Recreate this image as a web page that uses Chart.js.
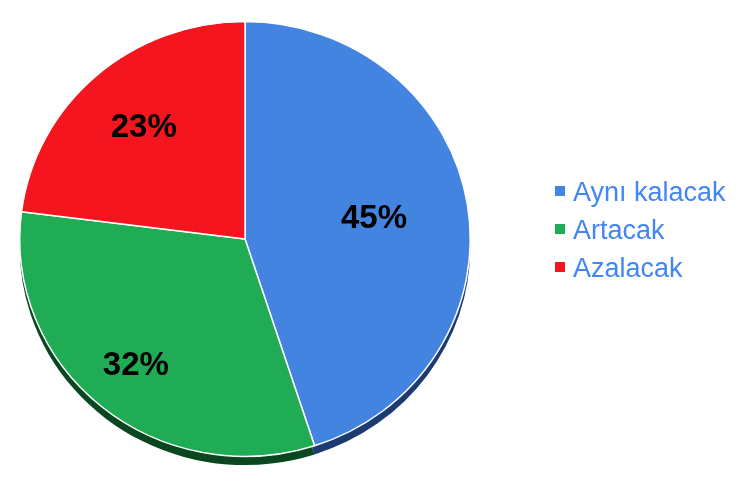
<!DOCTYPE html>
<html>
<head>
<meta charset="utf-8">
<script src="https://cdn.jsdelivr.net/npm/chart.js@4.4.1/dist/chart.umd.min.js"></script>
<style>
  html, body { margin: 0; padding: 0; background: #fff; }
  #wrap { width: 748px; height: 494px; }
</style>
</head>
<body>
<div id="wrap"><canvas id="pie-chart"></canvas></div>
<script>
var categories = ["Aynı kalacak", "Artacak", "Azalacak"];
var shares = [45, 32, 23];
var sliceColors = ["#4384e0", "#1fac55", "#f5151f"];
var sideColors = ["#1c3b70", "#0a4721", "#8a0c12"];

var tilt = 0.965;   // pie is a bit squashed vertically
var depth = 9;      // thickness of the 3d edge
var labelSpread = [0.58, 0.76, 0.68]; // how far out each % label sits

// squash the pie and paint the dark side under it
var tiltPlugin = {
  id: "tilt",
  beforeDatasetsDraw: function (chart) {
    var ctx = chart.ctx;
    var arcs = chart.getDatasetMeta(0).data;
    var cx = arcs[0].x, cy = arcs[0].y;
    ctx.save();
    ctx.translate(cx, cy);
    ctx.scale(1, tilt);
    ctx.translate(-cx, -cy);
    arcs.forEach(function (arc, i) {
      ctx.beginPath();
      ctx.moveTo(arc.x, arc.y + depth);
      ctx.arc(arc.x, arc.y + depth, arc.outerRadius, arc.startAngle, arc.endAngle);
      ctx.closePath();
      ctx.fillStyle = sideColors[i];
      ctx.fill();
    });
  },
  afterDatasetsDraw: function (chart) {
    var ctx = chart.ctx;
    ctx.restore();
    // percent labels inside the slices
    var arcs = chart.getDatasetMeta(0).data;
    ctx.save();
    ctx.font = "bold 33px 'Liberation Sans', Arial, sans-serif";
    ctx.fillStyle = "#000";
    ctx.textAlign = "center";
    ctx.textBaseline = "middle";
    arcs.forEach(function (arc, i) {
      var mid = (arc.startAngle + arc.endAngle) / 2;
      var r = arc.outerRadius * labelSpread[i];
      var x = arc.x + Math.cos(mid) * r;
      var y = arc.y + Math.sin(mid) * r * tilt;
      ctx.fillText(shares[i] + "%", x, y);
    });
    ctx.restore();
  }
};

// legend on the right, square marker + blue text
var sideLegend = {
  id: "sideLegend",
  afterDraw: function (chart) {
    var ctx = chart.ctx;
    ctx.save();
    ctx.font = "27px 'Liberation Sans', Arial, sans-serif";
    ctx.textBaseline = "alphabetic";
    ctx.textAlign = "left";
    categories.forEach(function (name, i) {
      var rowY = 191 + i * 38;
      ctx.fillStyle = sliceColors[i];
      ctx.fillRect(555, rowY - 5, 10, 10);
      ctx.fillStyle = "#4285f4";
      ctx.fillText(name, 573, rowY + 10);
    });
    ctx.restore();
  }
};

new Chart(document.getElementById("pie-chart"), {
  type: "pie",
  data: {
    labels: categories,
    datasets: [
      {
        data: shares,
        backgroundColor: sliceColors,
        borderColor: "#ffffff",
        borderWidth: 1.5,
      },
    ],
  },
  options: {
    responsive: true,
    maintainAspectRatio: false,
    animation: false,
    layout: { padding: { left: 19, right: 277, top: 13, bottom: 29 } },
    plugins: {
      legend: { display: false },
      tooltip: { enabled: false },
    },
  },
  plugins: [tiltPlugin, sideLegend],
});
</script>
</body>
</html>
